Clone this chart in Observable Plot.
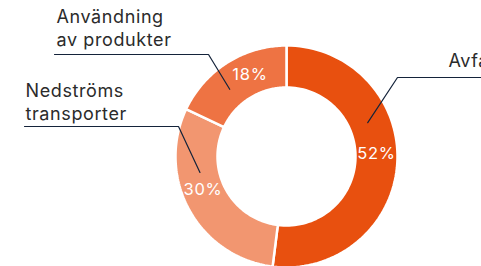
<!DOCTYPE html>
<html>
<head>
<meta charset="utf-8">
<script src="https://cdn.jsdelivr.net/npm/d3@7"></script>
<script src="https://cdn.jsdelivr.net/npm/@observablehq/plot@0.6"></script>
<style>
  html, body { margin: 0; padding: 0; background: #fff; overflow: hidden; }
  #chart svg { display: block; }
  #chart svg g.names text { letter-spacing: 0.6px; }
  #chart svg g.pcts text { letter-spacing: 0.7px; }
</style>
</head>
<body>
<div id="chart"></div>
<script>
// ---- data ----
const categories = ["Avfallshantering", "Nedströms transporter", "Användning av produkter"];
const values = [52, 30, 18];
const labels = ["Avfallshantering", "Nedströms\ntransporter", "Användning\nav produkter"];
const colors = ["#e8500f", "#f29670", "#ee7343"];

// ---- layout ----
const W = 481, H = 266;
const cx = 286, cy = 156, rOuter = 111, rInner = 69, rLabel = 90;
// percentage label placement as a fraction of each slice's angular span
const pctFrac = [0.472, 0.564, 0.63];
// annotation layout: text position, underline start/end, pointer angle fraction in slice
const annot = [
  {tx: 448, ty: 66, ux0: 397, ux1: 481, uy: 77, frac: 0.36},
  {tx: 25, ty: 119, ux0: 24, ux1: 178, uy: 126, frac: 0.67},
  {tx: 56, ty: 45, ux0: 54, ux1: 208, uy: 54, frac: 0.38}
];

const total = d3.sum(values);
let acc = 0;
const slices = categories.map((c, i) => {
  const a0 = acc / total * 2 * Math.PI;
  acc += values[i];
  const a1 = acc / total * 2 * Math.PI;
  return {cat: c, value: values[i], a0, a1};
});

const pol = (r, a) => ({x: cx + r * Math.sin(a), y: cy - r * Math.cos(a)});

// ring polygons built from the slice angles
const ringPts = [];
const N = 80;
for (const s of slices) {
  for (let k = 0; k <= N; k++) {
    const a = s.a0 + (s.a1 - s.a0) * k / N;
    ringPts.push({cat: s.cat, ...pol(rOuter, a)});
  }
  for (let k = N; k >= 0; k--) {
    const a = s.a0 + (s.a1 - s.a0) * k / N;
    ringPts.push({cat: s.cat, ...pol(rInner, a)});
  }
}

const pctLabels = slices.map((s, i) => ({text: s.value + "%", ...pol(rLabel, s.a0 + (s.a1 - s.a0) * pctFrac[i])}));

const leaderPts = [];
slices.forEach((s, i) => {
  const L = annot[i];
  const end = pol(88, s.a0 + (s.a1 - s.a0) * L.frac);
  const elbowX = i === 0 ? L.ux0 : L.ux1;
  const farX = i === 0 ? L.ux1 : L.ux0;
  leaderPts.push({g: i, x: farX, y: L.uy});
  leaderPts.push({g: i, x: elbowX, y: L.uy});
  leaderPts.push({g: i, x: end.x, y: end.y});
});

const nameLabels = slices.map((s, i) => ({text: labels[i], x: annot[i].tx, y: annot[i].ty}));

const chart = Plot.plot({
  width: W,
  height: H,
  margin: 0,
  x: {domain: [0, W], range: [0, W], axis: null},
  y: {domain: [0, H], range: [0, H], axis: null},
  color: {domain: categories, range: colors},
  style: {fontFamily: "Inter, 'Noto Sans', sans-serif", background: "#fff"},
  marks: [
    Plot.line(ringPts, {x: "x", y: "y", z: "cat", fill: "cat", stroke: "white", strokeWidth: 2.5, curve: "linear-closed"}),
    Plot.text(pctLabels, {x: "x", y: "y", text: "text", fill: "white", fontSize: 16.5, textAnchor: "middle", className: "pcts"}),
    Plot.line(leaderPts, {x: "x", y: "y", z: "g", stroke: "#14233a", strokeWidth: 1.2}),
    Plot.text(nameLabels, {x: "x", y: "y", text: "text", fill: "#2b2b2b", fontSize: 18, textAnchor: "start", lineAnchor: "bottom", lineHeight: 1.25, className: "names"})
  ]
});
document.getElementById("chart").appendChild(chart);
</script>
</body>
</html>
